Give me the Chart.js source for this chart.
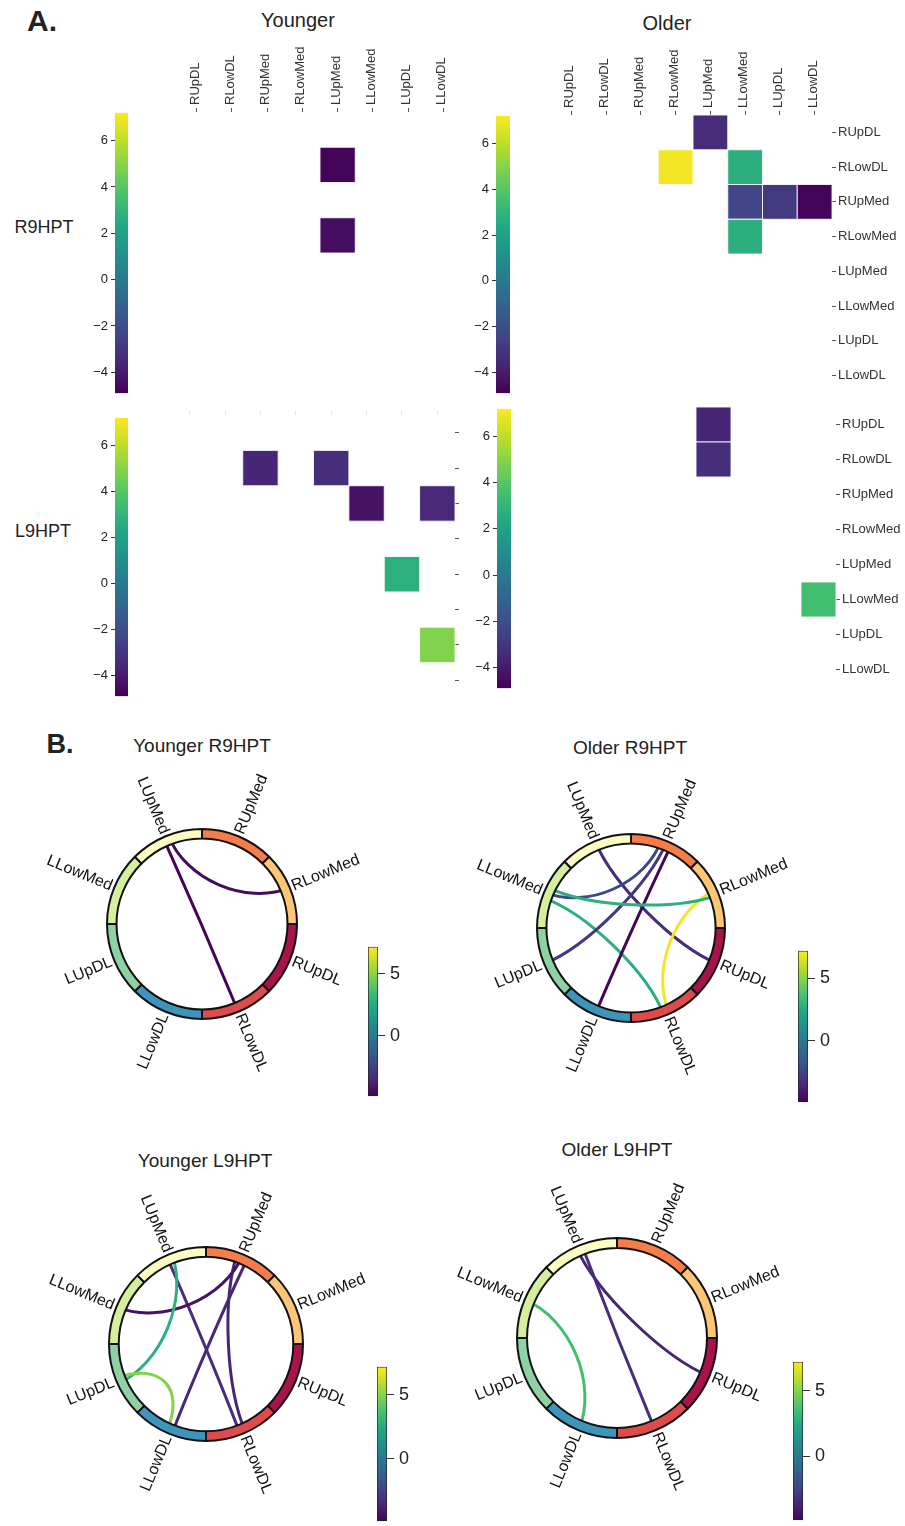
<!DOCTYPE html>
<html>
<head>
<meta charset="utf-8">
<script src="https://cdn.jsdelivr.net/npm/chart.js@4.4.1/dist/chart.umd.min.js"></script>
<style>
  html, body { margin: 0; padding: 0; overflow: hidden; }
  body { width: 905px; height: 1526px; position: relative; background: #fff;
         font-family: "Liberation Sans", Arial, sans-serif; color: #222; }
  .t { position: absolute; transform: translate(-50%, -50%); white-space: nowrap; line-height: 1; }
  canvas { position: absolute; }
</style>
</head>
<body>
<div class="t" style="left:42px;top:21px;font-weight:bold;font-size:30px;">A.</div>
<div class="t" style="left:298px;top:20px;font-size:20px;">Younger</div>
<div class="t" style="left:667px;top:23px;font-size:20px;">Older</div>
<div class="t" style="left:44px;top:227px;font-size:18px;">R9HPT</div>
<div class="t" style="left:43px;top:531px;font-size:18px;">L9HPT</div>
<div class="t" style="left:60px;top:744px;font-weight:bold;font-size:27px;">B.</div>
<div class="t" style="left:202px;top:745px;font-size:19px;">Younger R9HPT</div>
<div class="t" style="left:630px;top:747px;font-size:19px;">Older R9HPT</div>
<div class="t" style="left:205px;top:1160px;font-size:19px;">Younger L9HPT</div>
<div class="t" style="left:617px;top:1149px;font-size:19px;">Older L9HPT</div>

<script>
const NODES = ["RUpDL", "RLowDL", "RUpMed", "RLowMed", "LUpMed", "LLowMed", "LUpDL", "LLowDL"];
// ring order, clockwise from 12 o'clock
const RING_ORDER = ["RUpMed", "RLowMed", "RUpDL", "RLowDL", "LLowDL", "LUpDL", "LLowMed", "LUpMed"];
const RING_COLORS = ["#f47d4a", "#fdc676", "#a8134a", "#df4a4d", "#3e95bb", "#8dd1a5", "#d6ef9c", "#fbfbc2"];

// [row, column, value]
const youngerR9 = [
  ["RLowDL", "LUpMed", -4.8],
  ["RLowMed", "LUpMed", -4.5]
];
const olderR9 = [
  ["RUpDL", "LUpMed", -3.4],
  ["RLowDL", "RLowMed", 7.0],
  ["RLowDL", "LLowMed", 2.7],
  ["RUpMed", "LLowMed", -2.4],
  ["RUpMed", "LUpDL", -2.9],
  ["RUpMed", "LLowDL", -4.8],
  ["RLowMed", "LLowMed", 2.7]
];
const youngerL9 = [
  ["RLowDL", "RUpMed", -3.6],
  ["RLowDL", "LUpMed", -3.3],
  ["RUpMed", "LLowMed", -4.3],
  ["RUpMed", "LLowDL", -3.5],
  ["LUpMed", "LUpDL", 2.8],
  ["LUpDL", "LLowDL", 4.9]
];
const olderL9 = [
  ["RUpDL", "LUpMed", -3.6],
  ["RLowDL", "LUpMed", -3.3],
  ["LLowMed", "LLowDL", 3.5]
];

const VMIN = -4.9, VMAX = 7.2;
const TICKS_A = [-4, -2, 0, 2, 4, 6];
const TICKS_B = [0, 5];

const VIRIDIS = ["#440154", "#482475", "#414487", "#355f8d", "#2a788e", "#21918c",
                 "#22a884", "#44bf70", "#7ad151", "#bddf26", "#fde725"];
const FONT = '"Liberation Sans", Arial, sans-serif';

function hexRgb(h) {
  return [1, 3, 5].map(i => parseInt(h.substr(i, 2), 16));
}

function viridis(v) {
  let t = (v - VMIN) / (VMAX - VMIN);
  t = Math.min(1, Math.max(0, t)) * (VIRIDIS.length - 1);
  const i = Math.min(Math.floor(t), VIRIDIS.length - 2), f = t - i;
  const a = hexRgb(VIRIDIS[i]), b = hexRgb(VIRIDIS[i + 1]);
  const c = a.map((x, k) => Math.round(x + (b[k] - x) * f));
  return "rgb(" + c.join(",") + ")";
}

function makeCanvas(left, top, w, h) {
  const c = document.createElement("canvas");
  c.width = w;
  c.height = h;
  c.style.left = left + "px";
  c.style.top = top + "px";
  c.style.width = w + "px";
  c.style.height = h + "px";
  document.body.appendChild(c);
  return c;
}

const baseOpts = {
  responsive: false,
  animation: false,
  events: [],
  devicePixelRatio: 1
};

// ---------- heatmaps (panel A) ----------
function axisOpts(mode, position, size, vertical) {
  return {
    type: "linear",
    position: position,
    min: -0.5,
    max: 7.5,
    reverse: vertical,
    display: !!mode,
    afterBuildTicks: s => { s.ticks = NODES.map((_, i) => ({ value: i })); },
    afterFit: s => { if (vertical) s.width = size; else s.height = size; },
    border: { display: false },
    grid: { drawOnChartArea: false, tickLength: 4, color: mode === "faint" ? "#e4e4e4" : "#555" },
    ticks: {
      autoSkip: false,
      minRotation: vertical ? 0 : 90,
      maxRotation: 90,
      padding: vertical ? 2 : 3,
      labelOffset: vertical ? 0 : 14,
      color: "#333",
      font: { family: FONT, size: 13 },
      callback: v => mode === "labels" ? NODES[v] : ""
    }
  };
}

function heatmap(cells, g, top, right) {
  const P = 10;
  const topH = top ? (top === "labels" ? 66 : 8) : 0;
  const rightW = right ? (right === "labels" ? 80 : 8) : 0;
  const cv = makeCanvas(g.x - P, g.y - topH - P, g.w + rightW + 2 * P, g.h + topH + 2 * P);
  const side = c => {
    const s = c.chart.scales.x;
    return Math.abs(s.getPixelForValue(1) - s.getPixelForValue(0));
  };
  new Chart(cv, {
    type: "scatter",
    data: {
      datasets: [{
        data: cells.map(([r, c, v]) => ({ x: NODES.indexOf(c), y: NODES.indexOf(r), v: v })),
        pointStyle: "rect",
        pointRadius: c => side(c) / Math.SQRT2,
        pointBackgroundColor: c => c.raw ? viridis(c.raw.v) : "#000",
        pointBorderColor: "rgba(255,255,255,0.85)",
        pointBorderWidth: 1,
        clip: false
      }]
    },
    options: Object.assign({}, baseOpts, {
      layout: { padding: P },
      plugins: { legend: { display: false }, tooltip: { enabled: false } },
      scales: {
        x: axisOpts(top, "top", topH, false),
        y: axisOpts(right, "right", rightW, true)
      }
    })
  });
}

// ---------- colour bars ----------
function gradientFill(c) {
  const chart = c.chart;
  if (!chart.chartArea) return VIRIDIS[0];
  const ys = chart.scales.y;
  const g = chart.ctx.createLinearGradient(0, ys.getPixelForValue(VMIN), 0, ys.getPixelForValue(VMAX));
  VIRIDIS.forEach((col, i) => g.addColorStop(i / (VIRIDIS.length - 1), col));
  return g;
}

function colorbar(x, y, w, h, ticks, side, fontSize, outline) {
  const P = 10, axisW = side === "left" ? 36 : 40;
  const left = side === "left" ? x - axisW - P : x - P;
  const cv = makeCanvas(left, y - P, w + axisW + 2 * P, h + 2 * P);
  new Chart(cv, {
    type: "bar",
    data: {
      labels: [""],
      datasets: [{
        data: [[VMIN, VMAX]],
        backgroundColor: gradientFill,
        borderWidth: outline ? 1 : 0,
        borderColor: "#222",
        borderSkipped: false,
        barPercentage: 1,
        categoryPercentage: 1
      }]
    },
    options: Object.assign({}, baseOpts, {
      layout: { padding: P },
      plugins: { legend: { display: false }, tooltip: { enabled: false } },
      scales: {
        x: { display: false },
        y: {
          position: side,
          min: VMIN,
          max: VMAX,
          afterBuildTicks: s => { s.ticks = ticks.map(value => ({ value: value })); },
          afterFit: s => { s.width = axisW; },
          border: { display: false },
          grid: { drawOnChartArea: false, tickLength: side === "left" ? 4 : 7, color: "#333" },
          ticks: {
            padding: side === "left" ? 3 : 5,
            color: "#222",
            font: { family: FONT, size: fontSize },
            callback: v => String(v).replace("-", "\u2212")
          }
        }
      }
    })
  });
}

// ---------- chord diagrams (panel B) ----------
function chordPlugin(cells) {
  return {
    id: "chords",
    beforeDatasetsDraw(chart) {
      const arcs = chart.getDatasetMeta(0).data;
      const cx = arcs[0].x, cy = arcs[0].y, R = arcs[0].outerRadius;
      const mid = n => {
        const a = arcs[RING_ORDER.indexOf(n)];
        return (a.startAngle + a.endAngle) / 2;
      };
      const count = {}, seen = {};
      cells.forEach(([r, c]) => {
        count[r] = (count[r] || 0) + 1;
        count[c] = (count[c] || 0) + 1;
      });
      const angle = n => {
        const k = seen[n] = (seen[n] || 0) + 1;
        return mid(n) + (k - (count[n] + 1) / 2) * 0.06;
      };
      const pt = (a, r) => [cx + r * Math.cos(a), cy + r * Math.sin(a)];
      const ctx = chart.ctx;
      ctx.save();
      ctx.lineWidth = 3;
      ctx.lineCap = "butt";
      cells.forEach(([r, c, v]) => {
        const a0 = angle(r), a1 = angle(c);
        const p0 = pt(a0, R), c0 = pt(a0, R / 2), c1 = pt(a1, R / 2), p1 = pt(a1, R);
        ctx.strokeStyle = viridis(v);
        ctx.beginPath();
        ctx.moveTo(p0[0], p0[1]);
        ctx.bezierCurveTo(c0[0], c0[1], c1[0], c1[1], p1[0], p1[1]);
        ctx.stroke();
      });
      ctx.restore();
    },
    afterDatasetsDraw(chart) {
      const arcs = chart.getDatasetMeta(0).data;
      const ctx = chart.ctx;
      ctx.save();
      ctx.font = "16px " + FONT;
      ctx.fillStyle = "#111";
      ctx.textBaseline = "middle";
      arcs.forEach((a, i) => {
        const m = (a.startAngle + a.endAngle) / 2;
        const r = a.outerRadius * 1.03;
        const right = Math.cos(m) > 0;
        ctx.save();
        ctx.translate(a.x + r * Math.cos(m), a.y + r * Math.sin(m));
        ctx.rotate(right ? m : m + Math.PI);
        ctx.textAlign = right ? "left" : "right";
        ctx.fillText(chart.data.labels[i], 0, 0);
        ctx.restore();
      });
      ctx.restore();
    }
  };
}

function chord(cells, cx, cy, R) {
  const S = 420;
  const cv = makeCanvas(cx - S / 2, cy - S / 2, S, S);
  new Chart(cv, {
    type: "doughnut",
    data: {
      labels: RING_ORDER,
      datasets: [{
        data: RING_ORDER.map(() => 1),
        backgroundColor: RING_COLORS,
        borderColor: "#111",
        borderWidth: 2,
        borderAlign: "center"
      }]
    },
    options: Object.assign({}, baseOpts, {
      radius: R,
      cutout: "90%",
      layout: { padding: 0 },
      plugins: { legend: { display: false }, tooltip: { enabled: false } }
    }),
    plugins: [chordPlugin(cells)]
  });
}

// panel A
heatmap(youngerR9, { x: 179, y: 112, w: 282, h: 282 }, "labels", null);
heatmap(olderR9,   { x: 554, y: 115, w: 278, h: 278 }, "labels", "labels");
heatmap(youngerL9, { x: 172, y: 415, w: 283, h: 283 }, "faint", "ticks");
heatmap(olderL9,   { x: 556, y: 407, w: 280, h: 280 }, null, "labels");

colorbar(115, 112, 13, 282, TICKS_A, "left", 13, false);
colorbar(496, 115, 14, 279, TICKS_A, "left", 13, false);
colorbar(115, 417, 13, 280, TICKS_A, "left", 13, false);
colorbar(497, 408, 14, 281, TICKS_A, "left", 13, false);

// panel B
chord(youngerR9, 202, 924, 95);
chord(olderR9,   631, 928, 94);
chord(youngerL9, 206, 1344, 97);
chord(olderL9,   617, 1338, 100);

colorbar(368, 941, 10, 161, TICKS_B, "right", 18, true);
colorbar(798, 945, 10, 163, TICKS_B, "right", 18, true);
colorbar(377, 1361, 10, 166, TICKS_B, "right", 18, true);
colorbar(793, 1356, 10, 170, TICKS_B, "right", 18, true);
</script>
</body>
</html>
